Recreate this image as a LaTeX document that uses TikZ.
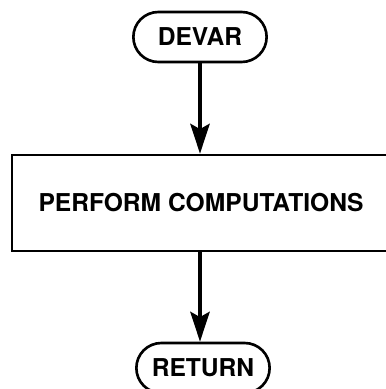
\documentclass[tikz,border=0pt]{standalone}
\usepackage{fontspec}
\setmainfont{TeX Gyre Heros}
\usetikzlibrary{arrows.meta,shapes.misc}

\begin{document}
\begin{tikzpicture}[
        terminal/.style = {rounded rectangle, draw, line width = 1.5pt,
                           minimum width = 2.9cm, minimum height = 1.0cm,
                           font = \fontsize{14}{16}\selectfont\bfseries},
        process/.style  = {rectangle, draw, line width = 1.5pt,
                           minimum width = 7.56cm, minimum height = 1.92cm,
                           font = \fontsize{14}{16}\selectfont\bfseries},
        flow/.style     = {line width = 2pt,
                           -{Stealth[length = 17pt, width = 11pt, inset = 3pt]}}
    ]
            \useasboundingbox (0.0, 0.0) rectangle (7.72, -7.78);

            \node [terminal] (devar)   at (4.0, -0.74) {DEVAR};
            \node [process]  (compute) at (4.02, -4.06) {PERFORM COMPUTATIONS};
            \node [terminal] (return)  at (4.06, -7.36) {RETURN};

            \draw [flow] (devar.south) -- (devar.south |- compute.north); % DEVAR -> computations
            \draw [flow] (devar.south |- compute.south) -- (devar.south |- return.north); % computations -> RETURN
        \end{tikzpicture}
\end{document}
